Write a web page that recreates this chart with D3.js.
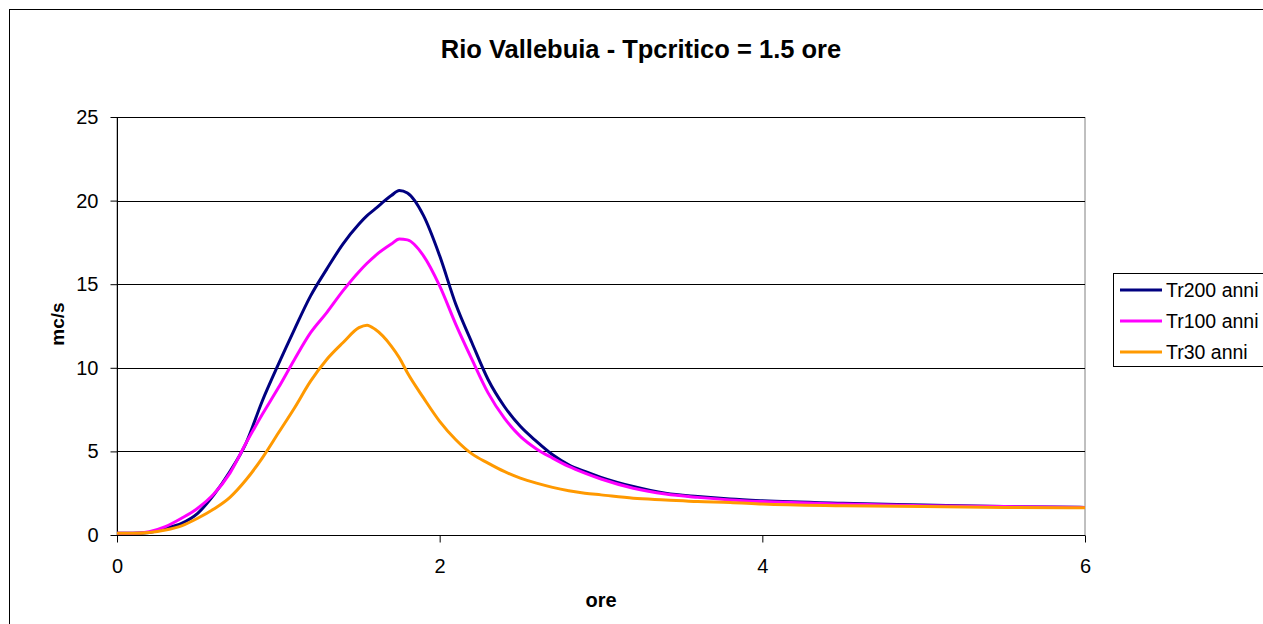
<!DOCTYPE html>
<html><head><meta charset="utf-8">
<script src="https://cdn.jsdelivr.net/npm/d3@7"></script>
<style>body{margin:0;background:#fff}svg{display:block}text{font-family:"Liberation Sans",Arial,sans-serif}</style>
</head><body><svg id="c" width="1263" height="624"></svg>
<script>
const title = "Rio Vallebuia - Tpcritico = 1.5 ore";
const xTitle = "ore";
const yTitle = "mc/s";
const xTicks = [0, 2, 4, 6];
const yTicks = [0, 5, 10, 15, 20, 25];
const seriesNames = ["Tr200 anni", "Tr100 anni", "Tr30 anni"];
const seriesColors = ["#000080", "#ff00ff", "#ff9900"];
const hours = [0,0.1,0.2,0.3,0.4,0.5,0.6,0.7,0.8,0.9,1.0,1.1,1.2,1.3,1.4,1.5,1.55,1.6,1.7,1.75,1.8,1.9,2.0,2.1,2.2,2.3,2.4,2.5,2.6,2.7,2.8,2.9,3.0,3.2,3.4,3.6,3.8,4.0,4.5,5.0,5.5,6.0];
const tr200 = [0.1,0.1,0.15,0.4,0.7,1.3,2.4,3.8,5.5,8.0,10.2,12.3,14.3,15.9,17.4,18.6,19.1,19.5,20.3,20.6,20.45,19.1,16.7,13.8,11.5,9.3,7.7,6.5,5.6,4.8,4.2,3.8,3.45,2.9,2.5,2.3,2.15,2.05,1.9,1.8,1.7,1.65];
const tr100 = [0.1,0.1,0.2,0.5,1.0,1.6,2.45,3.7,5.5,7.2,8.8,10.5,12.1,13.3,14.6,15.75,16.25,16.7,17.4,17.7,17.65,16.7,14.9,12.6,10.5,8.5,7.0,5.9,5.15,4.6,4.1,3.7,3.35,2.8,2.45,2.25,2.1,2.0,1.85,1.75,1.7,1.65];
const tr30 = [0.1,0.1,0.15,0.3,0.55,1.0,1.55,2.25,3.3,4.6,6.1,7.6,9.2,10.5,11.5,12.4,12.55,12.3,11.3,10.6,9.7,8.2,6.8,5.7,4.85,4.3,3.8,3.4,3.1,2.85,2.65,2.5,2.4,2.2,2.1,2.0,1.95,1.85,1.75,1.7,1.65,1.63];
const seriesValues = [tr200, tr100, tr30];

const svg = d3.select("#c");
// outer chart border
svg.append("rect").attr("x", 9.5).attr("y", 9.5).attr("width", 1300).attr("height", 700)
  .attr("fill", "none").attr("stroke", "#000").attr("stroke-width", 1);

const L = 117, R = 1085, T = 117, B = 535;
const x = d3.scaleLinear().domain([0, 6]).range([L, R]);
const y = d3.scaleLinear().domain([0, 25]).range([B, T]);

// plot area border
svg.append("rect").attr("x", L).attr("y", T + 0.5).attr("width", R - L).attr("height", B - T)
  .attr("fill", "none").attr("stroke", "#808080").attr("stroke-width", 1);

// gridlines
svg.append("g").selectAll("line").data(yTicks.filter(d => d > 0)).join("line")
  .attr("x1", L).attr("x2", R).attr("y1", d => Math.round(y(d)) + 0.5).attr("y2", d => Math.round(y(d)) + 0.5)
  .attr("stroke", "#000").attr("stroke-width", 1);

// axes
const yAxis = d3.axisLeft(y).tickValues(yTicks).tickSize(7).tickPadding(12).tickFormat(d3.format("d"));
const gy = svg.append("g").attr("transform", `translate(${L + 0.5},0)`).call(yAxis);
const xAxis = d3.axisBottom(x).tickValues(xTicks).tickSize(7).tickPadding(16).tickFormat(d3.format("d"));
const gx = svg.append("g").attr("transform", `translate(0,${B + 0.5})`).call(xAxis);
[gx, gy].forEach(g => {
  g.select(".domain").attr("stroke", "#000");
  g.selectAll(".tick line").attr("stroke", "#000");
  g.selectAll(".tick text").attr("font-size", 20).attr("fill", "#000")
    .style("font-family", '"Liberation Sans",Arial,sans-serif');
});
gx.select(".domain").attr("d", `M${L},0H${R}`);
gy.select(".domain").attr("d", `M0,${T}V${B}`);

// lines
const line = d3.line().x(d => x(d[0])).y(d => y(d[1])).curve(d3.curveMonotoneX);
seriesValues.forEach((vals, i) => {
  svg.append("path").datum(hours.map((h, j) => [h, vals[j]]))
    .attr("d", line).attr("fill", "none").attr("stroke", seriesColors[i])
    .attr("stroke-width", 3).attr("stroke-linejoin", "round");
});

// titles
svg.append("text").attr("x", 641).attr("y", 58).attr("text-anchor", "middle")
  .attr("font-size", 25.5).attr("font-weight", "bold").text(title);
svg.append("text").attr("x", 601).attr("y", 607).attr("text-anchor", "middle")
  .attr("font-size", 20).attr("font-weight", "bold").text(xTitle);
svg.append("text").attr("transform", "translate(64,324) rotate(-90)").attr("text-anchor", "middle")
  .attr("font-size", 19).attr("font-weight", "bold").text(yTitle);

// legend
const lg = svg.append("g");
lg.append("rect").attr("x", 1113.5).attr("y", 273.5).attr("width", 200).attr("height", 93)
  .attr("fill", "#fff").attr("stroke", "#000");
seriesNames.forEach((n, i) => {
  const yy = 290 + i * 31;
  lg.append("line").attr("x1", 1120).attr("x2", 1162).attr("y1", yy).attr("y2", yy)
    .attr("stroke", seriesColors[i]).attr("stroke-width", 3);
  lg.append("text").attr("x", 1166).attr("y", yy + 7).attr("font-size", 19.5).text(n);
});
</script></body></html>
